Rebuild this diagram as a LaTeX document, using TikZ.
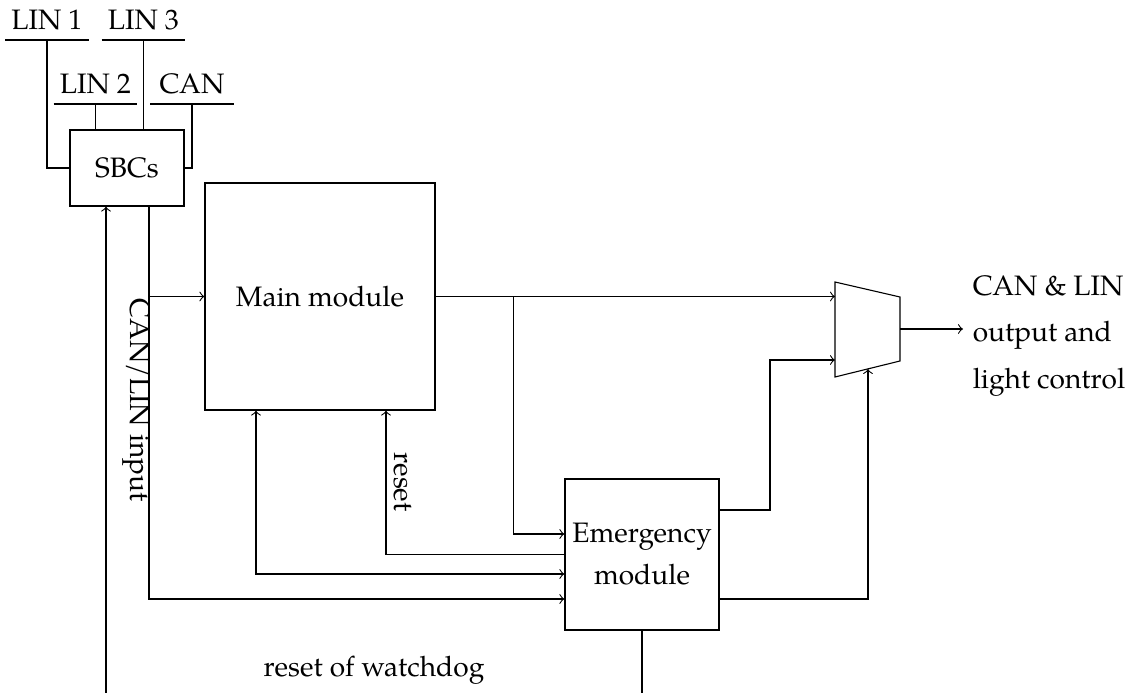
\documentclass[tikz,border=0pt]{standalone}
\usepackage{fontspec}
\setmainfont{texgyrepagella}[Extension=.otf,UprightFont=*-regular,BoldFont=*-bold,ItalicFont=*-italic,BoldItalicFont=*-bolditalic]
\usetikzlibrary{calc}
\begin{document}
\begin{tikzpicture}[x=0.361pt,y=-0.361pt,>=to,
  every node/.style={font=\fontsize{10.15}{15.2}\selectfont},
  box/.style={draw, inner sep=0pt, align=center},
  bus/.style={anchor=south, inner xsep=0pt, inner ysep=3.6pt, text depth=0pt, minimum width=82.5*0.361pt},
  vlabel/.style={rotate=-90, inner sep=0pt}]
\useasboundingbox (0,0) rectangle (1132,693);
% blocks
\node[box, minimum width=114*0.361pt, minimum height=76*0.361pt] (sbc) at (127,168) {SBCs};
\node[box, minimum width=230*0.361pt, minimum height=227*0.361pt] (main) at (320,296.5) {Main module};
\node[box, minimum width=154*0.361pt, minimum height=151*0.361pt] (emerg) at (642,554.5) {Emergency\\module};
% bus labels
\node[bus] (lin1) at (47,40) {LIN 1};
\node[bus] (lin3) at (143.5,40) {LIN 3};
\node[bus] (lin2) at (95.5,104) {LIN 2};
\node[bus] (can) at (192,104) {CAN};
\foreach \b in {lin1,lin3,lin2,can} \draw (\b.south west) -- (\b.south east);
\draw (lin1.south) |- (sbc.west);
\draw (lin3.south) -- (lin3.south |- sbc.north);
\draw (lin2.south) -- (lin2.south |- sbc.north);
\draw (can.south) |- (sbc.east);
% multiplexer
\coordinate (m1) at (835,282);
\coordinate (m2) at (900,297);
\coordinate (m3) at (900,361);
\coordinate (m4) at (835,377);
\draw (m1) -- (m2) -- (m3) -- (m4) -- cycle;
\coordinate (muxin2) at (835,360);
\coordinate (muxout) at (900,329);
\coordinate (muxbot) at (868,369);
% main output
\draw[->] (main.east) -- (main.east -| m1);
\coordinate (br) at ($(main.east)+(78,0)$);
\draw[->] (br) |- ($(emerg.west)+(0,-20.5)$);
% emergency outputs
\draw[->] ($(emerg.east)+(0,-44.5)$) -| ($(muxin2)+(-65,0)$) -- (muxin2);
\draw[->] ($(emerg.east)+(0,44.5)$) -| (muxbot);
% reset
\draw[->] (emerg.west) -| ($(main.south)+(66,0)$);
\node[vlabel] (resetlbl) at (403,482) {reset};
\draw[<->] ($(main.south)+(-64,0)$) |- ($(emerg.west)+(0,19.5)$);
% SBC outputs
\coordinate (sbcout) at ($(sbc.south)+(22,0)$);
\draw[->] (sbcout) |- (main.west);
\draw[->] (sbcout) |- ($(emerg.west)+(0,44.5)$);
\node[vlabel] (canlin) at (137,400) {CAN/LIN input};
% watchdog
\coordinate (wd) at (106,693);
\draw[->] (wd) -- (wd |- sbc.south);
\draw (emerg.south) -- (emerg.south |- wd);
\node[anchor=base] (wdlbl) at (374,677) {reset of watchdog};
% output
\node[anchor=west, align=left, font=\fontsize{10.15}{16.8}\selectfont] (out) at (963,336) {CAN \& LIN\\output and\\light control};
\draw[->] (muxout) -- (muxout -| out.west);
\end{tikzpicture}
\end{document}
